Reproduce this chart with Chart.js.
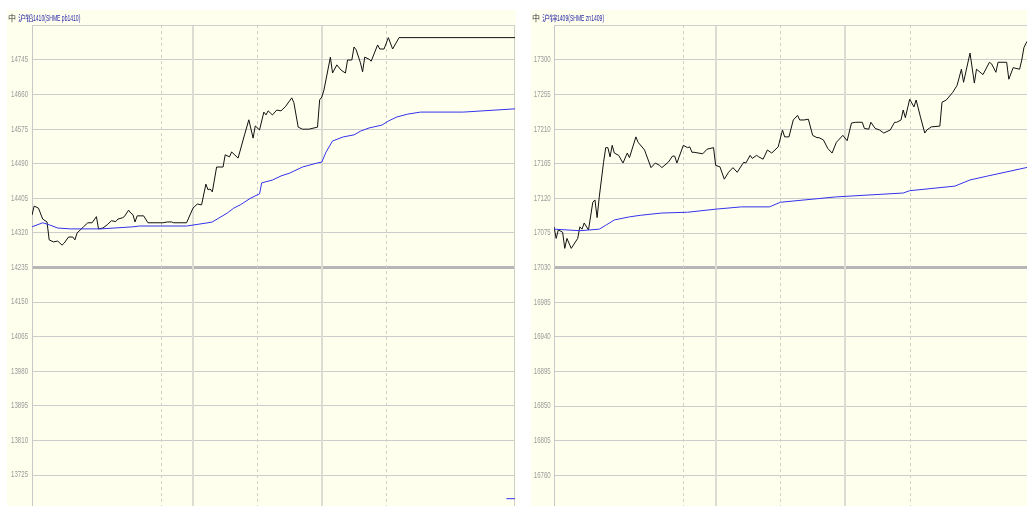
<!DOCTYPE html>
<html><head><meta charset="utf-8">
<script src="https://cdn.jsdelivr.net/npm/chart.js@4.4.0/dist/chart.umd.min.js"></script>
<style>
html,body{margin:0;padding:0;background:#fff;width:1027px;height:506px;overflow:hidden;position:relative}
.panel{position:absolute;top:10px;height:496px;width:509px;background:#FFFFEE}
#p1{left:7px}
#p2{left:531px}
canvas{position:absolute;left:0;top:0}
.title{position:absolute;top:2px;left:1px;white-space:nowrap;line-height:11px;color:#2a2aa8;display:flex;align-items:center;height:11px}
.title .mk{color:#333;font:8px "Noto Sans CJK SC",sans-serif;margin-right:2px}
.title .cj{font:8px "Noto Sans CJK SC",sans-serif;letter-spacing:-0.4px}
.title .la{display:inline-block;font:9px "Liberation Sans",sans-serif;transform:scaleX(0.56);transform-origin:0 50%}
</style></head>
<body>
<div class="panel" id="p1"><canvas id="c1" width="509" height="496"></canvas><div class="title"><span class="mk">中</span><span class="cj">沪铅</span><span class="la">1410(SHME pb1410)</span></div></div>
<div class="panel" id="p2"><canvas id="c2" width="509" height="496"></canvas><div class="title"><span class="mk">中</span><span class="cj">沪锌</span><span class="la">1409(SHME zn1409)</span></div></div>
<script>
// ---- time marks (minutes from 09:00 within a 225-minute day session) ----
const sessionBreaks = [75, 135];      // 10:15 | 11:30 session ends
const hourMarks = [60, 105, 165];     // 10:00, 11:00, 14:00

// ---- Left: 沪铅1410 ----
const leftTicks = [13725, 13810, 13895, 13980, 14065, 14150, 14235, 14320, 14405, 14490, 14575, 14660, 14745];
const leftBase = 14235;
const leftPriceMin = [0,1,3,5,7,8,10,12,14,15,17,19,20,21,24,26,28,30,31,33,35,37,39,40,42,43,45,46,47,48,49,52,54,61,63,65,66,72,75,77,79,81,82,83,84,86,89,90,92,93,96,99,101,103,104,106,108,109,110,112,114,116,118,121,122,124,126,129,133,134,135,136,139,140,142,144,146,147,149,150,151,153,154,155,157,158,161,162,164,166,168,171,225];
const leftPrice = [14364,14386,14381,14354,14347,14303,14298,14300,14290,14295,14310,14310,14303,14320,14335,14345,14345,14360,14330,14332,14340,14350,14348,14354,14357,14360,14376,14369,14365,14347,14362,14362,14345,14345,14347,14347,14345,14345,14381,14391,14389,14440,14426,14428,14421,14482,14482,14512,14507,14519,14504,14561,14598,14553,14583,14573,14617,14610,14620,14610,14622,14620,14630,14652,14640,14580,14575,14575,14580,14647,14654,14671,14752,14713,14733,14720,14713,14745,14745,14777,14770,14738,14716,14752,14747,14742,14782,14772,14772,14800,14772,14800,14800];
const leftAvgMin = [0,5,8,12,18,32,47,50,72,82,84,91,94,97,102,106,107,112,116,120,126,133,135,137,140,145,150,153,157,163,166,170,175,181,201,225];
const leftAvg = [14335,14345,14340,14332,14330,14330,14335,14337,14337,14345,14347,14369,14381,14389,14406,14416,14443,14450,14460,14467,14482,14492,14494,14519,14546,14556,14561,14570,14578,14585,14595,14605,14612,14617,14617,14625];
const leftTailMin = [221, 225];
const leftTail = [13667, 13667];

// ---- Right: 沪锌1409 ----
const rightTicks = [16760, 16805, 16850, 16895, 16940, 16985, 17030, 17075, 17120, 17165, 17210, 17255, 17300];
const rightBase = 17030;
const rightPriceMin = [0,1,2,4,5,6,8,11,12,13,14,16,18,19,20,21,23,24,25,26,27,28,30,32,34,35,38,39,42,45,47,49,50,53,55,56,57,60,62,63,64,65,69,71,74,75,77,79,81,83,85,88,89,91,92,94,95,97,99,101,104,106,107,109,111,113,114,116,118,120,122,123,125,127,129,131,134,136,138,140,143,144,146,147,149,151,153,156,158,159,161,162,163,165,167,168,170,172,173,175,179,180,182,185,187,189,190,193,195,196,199,202,203,205,206,210,211,213,216,217,218,219,220];
const rightPrice = [17083,17068,17079,17076,17055,17068,17055,17068,17083,17080,17088,17079,17115,17118,17095,17122,17167,17186,17186,17174,17189,17179,17176,17166,17179,17173,17200,17193,17183,17160,17166,17163,17160,17167,17175,17175,17166,17189,17186,17187,17180,17180,17178,17184,17186,17163,17161,17145,17154,17160,17154,17167,17166,17176,17172,17176,17174,17171,17183,17179,17187,17209,17200,17200,17222,17228,17222,17222,17223,17202,17199,17199,17196,17185,17179,17193,17202,17195,17218,17219,17219,17211,17210,17219,17211,17209,17205,17209,17219,17219,17222,17235,17225,17249,17239,17248,17226,17205,17209,17213,17214,17245,17248,17258,17267,17288,17271,17309,17270,17288,17281,17297,17295,17284,17297,17297,17275,17290,17288,17300,17316,17322,17326];
const rightAvgMin = [0,12,21,24,28,35,40,50,62,75,87,100,105,131,162,165,186,193,201,219,220];
const rightAvg = [17080,17078,17080,17085,17092,17096,17098,17101,17102,17106,17109,17109,17115,17122,17127,17130,17136,17144,17149,17160,17161];

const pts = (xs, ys) => xs.map((m, i) => ({x: m, y: ys[i]}));
const LABEL_SQUEEZE = 0.72;

// condense the y-axis labels horizontally, anchored at the axis line
function condenseLabels(scale) {
  if (scale._condensed) return;
  scale._condensed = true;
  const orig = scale.drawLabels;
  scale.drawLabels = function (area) {
    const ctx = this.ctx;
    const L = this.left;
    // widen the label clip box so the squeezed text is not cut
    this.left = this.right - (this.right - L) / LABEL_SQUEEZE - 10;
    ctx.save();
    ctx.translate(this.right, 0);
    ctx.scale(LABEL_SQUEEZE, 1);
    ctx.translate(-this.right, 0);
    orig.call(this, area);
    ctx.restore();
    this.left = L;
  };
}

const framePlugin = {
  id: 'frame',
  beforeDatasetsDraw(chart) {
    const {ctx, chartArea: a, scales: {x}} = chart;
    ctx.save();
    ctx.strokeStyle = '#d0d0c8'; ctx.lineWidth = 1; ctx.setLineDash([3, 3]);
    hourMarks.forEach(m => {
      const px = Math.round(x.getPixelForValue(m)) + 0.5;
      ctx.beginPath(); ctx.moveTo(px, a.top); ctx.lineTo(px, a.bottom); ctx.stroke();
    });
    ctx.setLineDash([]);
    ctx.strokeStyle = '#dcdcd2'; ctx.lineWidth = 2;
    sessionBreaks.forEach(m => {
      const px = Math.round(x.getPixelForValue(m));
      ctx.beginPath(); ctx.moveTo(px, a.top); ctx.lineTo(px, a.bottom); ctx.stroke();
    });
    ctx.strokeStyle = '#cfcfcf'; ctx.lineWidth = 1;
    ctx.beginPath(); ctx.moveTo(a.left, a.top + 0.5); ctx.lineTo(a.right, a.top + 0.5); ctx.stroke();
    ctx.beginPath(); ctx.moveTo(a.right - 0.5, a.top); ctx.lineTo(a.right - 0.5, a.bottom); ctx.stroke();
    ctx.restore();
  }
};

function makeChart(id, cfg) {
  const datasets = cfg.series.map(s => ({
    data: s.data, borderColor: s.color, borderWidth: 1, pointRadius: 0, tension: 0, fill: false
  }));
  return new Chart(document.getElementById(id), {
    type: 'line',
    data: {datasets},
    plugins: [framePlugin],
    options: {
      responsive: false, animation: false, devicePixelRatio: 1,
      layout: {padding: {top: 15, left: 0, right: 1, bottom: 0}},
      plugins: {legend: {display: false}, tooltip: {enabled: false}, title: {display: false}},
      scales: {
        x: {type: 'linear', min: 0, max: 225, display: false},
        y: {
          type: 'linear', min: cfg.min, max: cfg.max,
          afterBuildTicks: s => { s.ticks = cfg.ticks.map(v => ({value: v})); },
          afterFit: s => { s.width = cfg.axisW; s.paddingTop = 0; s.paddingBottom = 0; condenseLabels(s); },
          ticks: {
            autoSkip: false, padding: cfg.pad, color: '#9a9a9a',
            font: {family: '"Liberation Sans", sans-serif', size: 8.5},
            callback: v => String(v)
          },
          grid: {
            drawTicks: false,
            color: c => (c.tick && c.tick.value === cfg.base) ? '#b6b6b6' : '#cccccc',
            lineWidth: c => (c.tick && c.tick.value === cfg.base) ? 3 : 1
          },
          border: {display: true, color: '#c8c8c8', width: 1}
        }
      }
    }
  });
}

makeChart('c1', {
  min: 13649, max: 14831, ticks: leftTicks, base: leftBase, axisW: 25, pad: 5.5,
  series: [
    {data: pts(leftAvgMin, leftAvg), color: '#3333ee'},
    {data: pts(leftPriceMin, leftPrice), color: '#111111'},
    {data: pts(leftTailMin, leftTail), color: '#3333ee'}
  ]
});
makeChart('c2', {
  min: 16720, max: 17345.5, ticks: rightTicks, base: rightBase, axisW: 23, pad: 4.5,
  series: [
    {data: pts(rightAvgMin, rightAvg), color: '#3333ee'},
    {data: pts(rightPriceMin, rightPrice), color: '#111111'}
  ]
});
</script>
</body></html>
